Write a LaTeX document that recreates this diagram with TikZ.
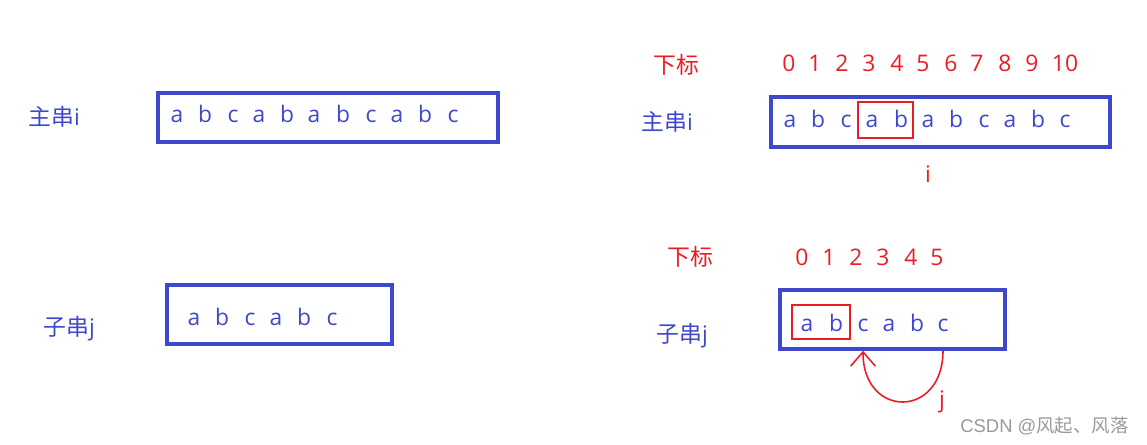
\documentclass[tikz,border=0pt]{standalone}
\usepackage{fontspec}
\setmainfont{Open Sans}
\newfontfamily\cjk{Noto Sans CJK SC}
\newfontfamily\wmfont{Liberation Sans}
\usetikzlibrary{arrows.meta, positioning, calc}
\definecolor{boxblue}{RGB}{63,72,204}
\definecolor{markred}{RGB}{237,28,36}
\tikzset{
    strbox/.style={rectangle, draw=boxblue, line width=2pt, inner sep=0pt},
    markbox/.style={rectangle, draw=markred, line width=1.6pt, inner sep=0pt},
    chr/.style={anchor=base, text=boxblue, inner sep=0pt, font=\fontsize{13}{15}\selectfont},
    idx/.style={chr, text=markred},
    tag/.style={anchor=base west, text=boxblue, inner sep=0pt, font=\fontsize{13}{15}\selectfont},
    hand/.style={draw=markred, line width=0.9pt, -{Straight Barb[length=8pt, width=14pt]}}
}

\begin{document}
\begin{tikzpicture}[x=0.02cm, y=-0.02cm]
    \useasboundingbox (0,0) rectangle (1147,444);

    % left: main string and sub string
    \node[tag] (mainLtag) at (28,125) {{\cjk 主串}i};
    \node[strbox, minimum width=6.8cm, minimum height=0.98cm] (mainL) at (328,117.5) {};
    \foreach \x/\ch [count=\k] in {177/a,205/b,233/c,259/a,287/b,314/a,343/b,371/c,397/a,425/b,453/c}
        \node[chr] (ml\k) at (\x,122) {\ch};

    \node[tag] (subLtag) at (43,335) {{\cjk 子串}j};
    \node[strbox, minimum width=4.5cm, minimum height=1.18cm] (subL) at (279.5,314.5) {};
    \foreach \x/\ch [count=\k] in {194/a,222/b,250/c,276/a,304/b,332/c}
        \node[chr] (sl\k) at (\x,325) {\ch};

    % right: main string with indices
    \node[tag, text=markred] (idxRtag) at (653,73) {\cjk 下标};
    \foreach \x/\n in {789/0,815/1,842/2,869/3,897/4,923/5,951/6,977/7,1005/8,1032/9,1065/10}
        \node[idx] (mi\n) at (\x,71) {\n};
    \node[tag] (mainRtag) at (641,130) {{\cjk 主串}i};
    \node[strbox, minimum width=6.78cm, minimum height=1.0cm] (mainR) at (940.5,122) {};
    \foreach \x/\ch [count=\k] in {790/a,818/b,846/c,872/a,901/b,928/a,956/b,984/c,1010/a,1038/b,1065/c}
        \node[chr] (mr\k) at (\x,127) {\ch};
    \node[markbox, minimum width=1.1cm, minimum height=0.72cm] (markM) at (885.5,120) {};
    \node[idx] (ptri) at (928,182) {i};

    % right: sub string with indices
    \node[tag, text=markred] (idxStag) at (667,265) {\cjk 下标};
    \foreach \x/\n in {802/0,829/1,856/2,883/3,911/4,937/5}
        \node[idx] (si\n) at (\x,265) {\n};
    \node[tag] (subRtag) at (656,342) {{\cjk 子串}j};
    \node[strbox, minimum width=4.5cm, minimum height=1.18cm] (subR) at (892.5,319.5) {};
    \foreach \x/\ch [count=\k] in {807/a,836/b,863/c,889/a,917/b,943/c}
        \node[chr] (sr\k) at (\x,331) {\ch};
    \node[markbox, minimum width=1.16cm, minimum height=0.68cm] (markS) at (821,322) {};

    % j jumps back
    \draw[hand] (sr6 |- subR.south) .. controls +(0,68) and +(0,68) .. (sr3 |- subR.south);
    \node[idx] (ptrj) at (942,407) {j};

    \node[anchor=base west, inner sep=0pt, text=black!40, font=\wmfont\fontsize{10.5}{12}\selectfont] (wm) at (960,432) {CSDN @{\cjk 风起、风落}};
\end{tikzpicture}
\end{document}
